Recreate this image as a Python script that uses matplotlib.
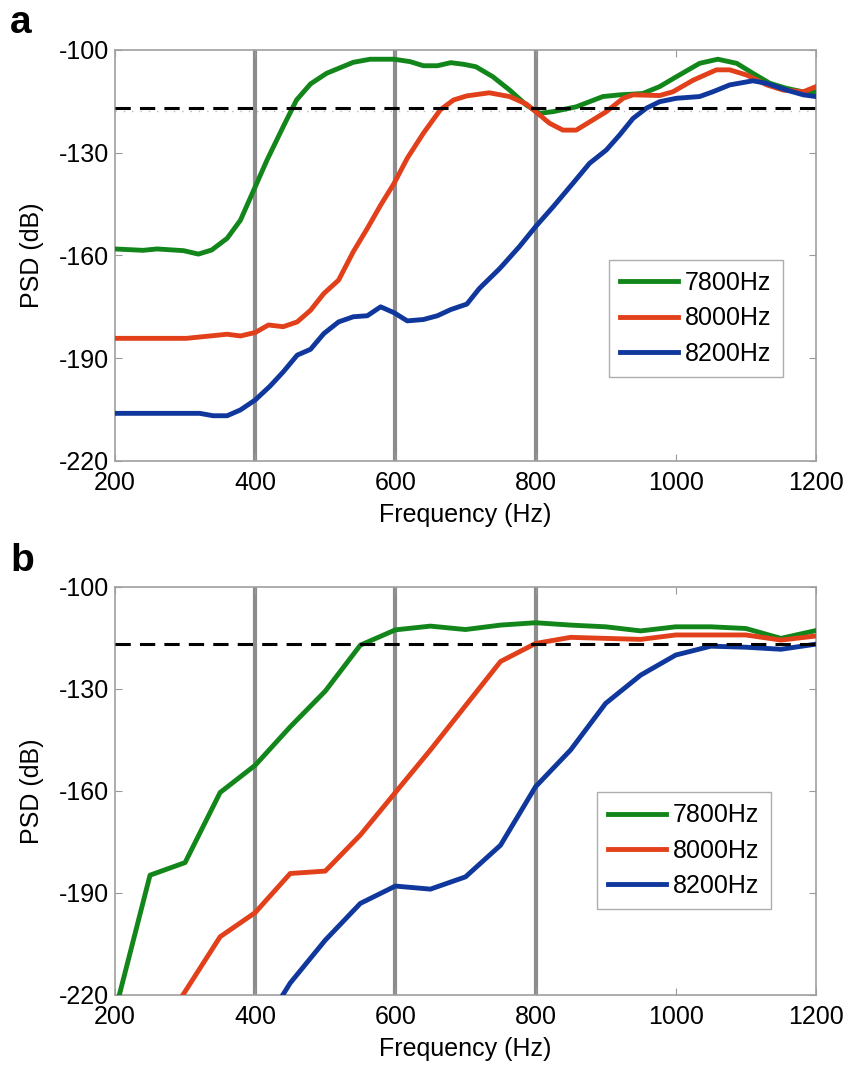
import matplotlib.pyplot as plt

plt.rcParams['font.family'] = ['Liberation Sans', 'DejaVu Sans']
plt.rcParams['axes.unicode_minus'] = False

# ---- panel a data (smooth curves) ----
fa_g = [200, 240, 260, 298, 319, 338, 360, 379, 398, 417, 440, 459, 479, 502, 540, 564, 598,
        621, 640, 660, 679, 698, 715, 739, 763, 787, 806, 825, 858, 896, 920, 953, 977, 1001,
        1034, 1060, 1087, 1110, 1134, 1158, 1181, 1200]
pa_g = [-158.1, -158.5, -158.1, -158.6, -159.6, -158.4, -155.0, -149.7, -140.9, -132.1, -122.4,
        -114.6, -109.9, -106.8, -103.6, -102.7, -102.7, -103.4, -104.6, -104.6, -103.7, -104.2,
        -104.9, -107.8, -111.7, -116.1, -118.5, -118.0, -116.6, -113.6, -113.1, -112.7, -110.7,
        -107.8, -103.9, -102.7, -103.9, -106.8, -109.7, -111.2, -112.2, -112.2]

fa_r = [200, 302, 360, 379, 400, 419, 440, 460, 479, 498, 519, 540, 560, 579, 598, 617, 640,
        664, 683, 702, 734, 763, 787, 803, 820, 839, 858, 882, 901, 925, 939, 977, 996, 1025,
        1058, 1077, 1101, 1130, 1153, 1182, 1200]
pa_r = [-184.2, -184.2, -183.0, -183.5, -182.5, -180.3, -180.8, -179.4, -176.0, -171.1, -167.2,
        -158.9, -152.1, -145.3, -139.0, -131.6, -124.3, -117.5, -114.6, -113.4, -112.5, -113.6,
        -115.8, -118.5, -121.4, -123.4, -123.4, -120.4, -118.0, -114.1, -113.1, -113.3, -112.2,
        -108.8, -105.8, -105.8, -107.3, -110.2, -111.7, -112.2, -110.7]

fa_b = [200, 321, 340, 360, 379, 400, 421, 440, 460, 479, 498, 519, 540, 560, 579, 598, 617,
        640, 660, 679, 702, 720, 749, 777, 800, 825, 853, 877, 901, 920, 939, 958, 977, 1001,
        1034, 1053, 1077, 1110, 1129, 1158, 1182, 1200]
pa_b = [-206.1, -206.1, -206.8, -206.8, -205.1, -202.2, -198.2, -194.0, -189.1, -187.4, -182.8,
        -179.4, -177.9, -177.6, -175.0, -176.7, -179.1, -178.7, -177.6, -175.8, -174.2, -169.6,
        -163.8, -157.4, -151.6, -145.8, -139.0, -133.1, -129.2, -124.8, -120.0, -117.0, -115.1,
        -114.1, -113.6, -112.2, -110.2, -109.0, -109.7, -111.7, -113.1, -113.6]

# ---- panel b data (50 Hz steps) ----
fb = [200, 250, 300, 350, 400, 450, 500, 550, 600, 650, 700, 750, 800, 850, 900, 950, 1000,
      1050, 1100, 1150, 1200]
pb_g = [-225.0, -184.8, -181.1, -160.5, -152.5, -141.2, -130.7, -117.2, -112.7, -111.6, -112.6,
        -111.3, -110.6, -111.3, -111.8, -113.0, -111.8, -111.8, -112.3, -115.2, -112.9]
pb_r = [-250.0, -235.0, -219.0, -202.9, -195.8, -184.3, -183.6, -173.0, -160.5, -148.0, -135.0,
        -122.0, -116.7, -114.9, -115.2, -115.5, -114.2, -114.2, -114.2, -115.7, -114.5]
pb_b = [-280.0, -265.0, -250.0, -240.0, -233.0, -216.5, -203.9, -193.1, -188.0, -188.9, -185.3,
        -176.0, -158.8, -148.0, -134.3, -126.0, -120.1, -117.5, -117.8, -118.4, -116.9]

labels = ['7800Hz', '8000Hz', '8200Hz']
colors = ['#13861b', '#e2401a', '#10379c']
vlines = [400, 600, 800]
threshold = -117

fig = plt.figure(figsize=(8.51, 10.68), dpi=100)
ax_a = fig.add_axes([0.1351, 0.5684, 0.8237, 0.3848])
ax_b = fig.add_axes([0.1351, 0.0684, 0.8237, 0.3823])

panels = [
    (ax_a, [(fa_g, pa_g), (fa_r, pa_r), (fa_b, pa_b)], 'a', (0.705, 0.489)),
    (ax_b, [(fb, pb_g), (fb, pb_r), (fb, pb_b)], 'b', (0.688, 0.497)),
]

for ax, series, tag, legpos in panels:
    for v in vlines:
        ax.axvline(v, color='#8c8c8c', lw=3.0, zorder=1)
    if tag == 'a':
        ax.axhline(threshold - 0.8, color='#bbbbbb', lw=1.0, ls=(0, (1, 5)), zorder=1)
    for (f, p), c, lab in zip(series, colors, labels):
        ax.plot(f, p, color=c, lw=3.5, label=lab, zorder=3, solid_joinstyle='round')
    ax.axhline(threshold, color='black', lw=2.2, ls=(0, (5, 3)), zorder=4)

    ax.set_xlim(200, 1200)
    ax.set_ylim(-220, -100)
    ax.set_xticks([200, 400, 600, 800, 1000, 1200])
    ax.set_yticks([-220, -190, -160, -130, -100])
    ax.tick_params(direction='in', length=5, color='#999999', labelsize=18,
                   top=True, right=True, pad=4)
    ax.tick_params(axis='x', pad=7)
    for s in ax.spines.values():
        s.set_color('#a0a0a0')
        s.set_linewidth(1.2)
    ax.set_xlabel('Frequency (Hz)', fontsize=18, labelpad=6)
    ax.set_ylabel('PSD (dB)', fontsize=18, labelpad=11)
    leg = ax.legend(loc='upper left', bbox_to_anchor=legpos, fontsize=18, frameon=True,
                    fancybox=False, handlelength=2.3, handletextpad=0.28, borderpad=0.45,
                    labelspacing=0.45, borderaxespad=0)
    leg.get_frame().set_edgecolor('#999999')
    leg.get_frame().set_linewidth(1.0)

fig.text(0.012, 0.969, 'a', fontsize=28, fontweight='bold')
fig.text(0.012, 0.465, 'b', fontsize=28, fontweight='bold')

fig.savefig('out.png', dpi=100)
